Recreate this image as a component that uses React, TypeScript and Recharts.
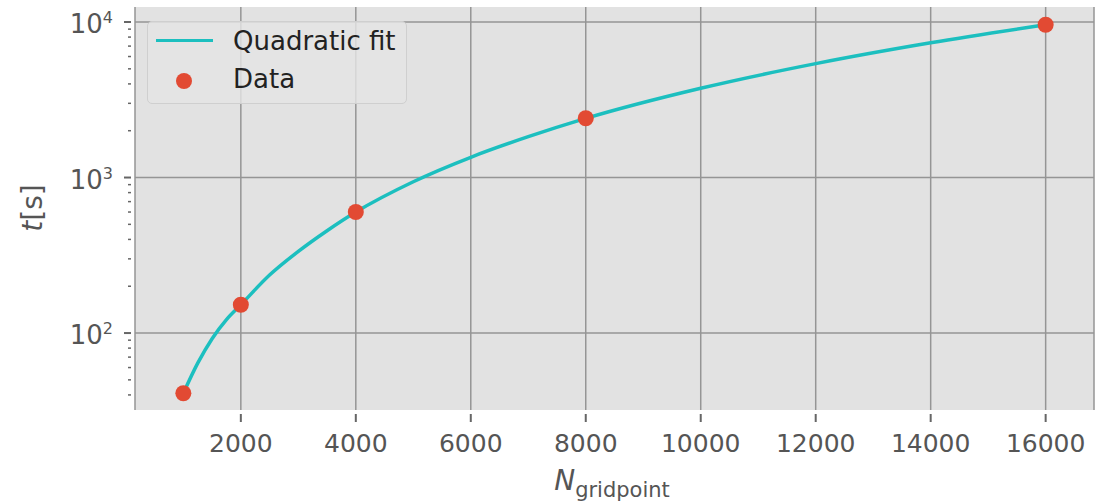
import React from 'react'
import {
  ComposedChart,
  Line,
  Scatter,
  XAxis,
  YAxis,
  CartesianGrid,
  ReferenceLine,
  Legend,
} from 'recharts'

// measured points
const DATA_N = [1000, 2000, 4000, 8000, 16000]
const DATA_T = [41, 152, 600, 2405, 9600]

// fitted curve
const FIT_N = [1000, 1250, 1500, 1750, 2000, 2500, 3000, 3500, 4000, 5000, 6000, 7000, 8000, 10000, 12000, 14000, 16000]
const FIT_T = [41, 64, 92, 122, 152, 236, 335, 455, 600, 940, 1350, 1830, 2400, 3750, 5400, 7350, 9600]

const X_TICKS = [2000, 4000, 6000, 8000, 10000, 12000, 14000, 16000]
const Y_MAJOR = [100, 1000, 10000]
const Y_MINOR = [40, 50, 60, 70, 80, 90, 200, 300, 400, 500, 600, 700, 800, 900, 2000, 3000, 4000, 5000, 6000, 7000, 8000, 9000]

const FONT = '"DejaVu Sans", sans-serif'
const FIT_COLOR = '#1cbfbf'
const DATA_COLOR = '#e24a33'
const TICK_COLOR = '#555'
const GRID_COLOR = '#959595'

const points = DATA_N.map((n, i) => ({ n, t: DATA_T[i] }))
const fit = FIT_N.map((n, i) => ({ n, t: FIT_T[i] }))

const XTick = ({ x, y, payload }: any) => (
  <g>
    <line x1={x} x2={x} y1={y + 4} y2={y + 12} stroke="#666" strokeWidth={2} />
    <text x={x} y={y + 42} textAnchor="middle" fontFamily={FONT} fontSize={25} fill={TICK_COLOR}>
      {payload.value}
    </text>
  </g>
)

const YTick = ({ x, y, payload }: any) => {
  const v = payload.value
  const exp = Math.round(Math.log10(v))
  const major = Math.abs(Math.log10(v) - exp) < 1e-9
  if (!major) {
    return <line x1={x - 7} x2={x - 4} y1={y} y2={y} stroke="#666" strokeWidth={1.5} />
  }
  return (
    <g>
      <line x1={x - 11} x2={x - 4} y1={y} y2={y} stroke="#666" strokeWidth={2} />
      <text x={x - 22} y={y + 11} textAnchor="end" fontFamily={FONT} fontSize={26} fill={TICK_COLOR}>
        10
        <tspan dy={-10} fontSize={16}>
          {exp}
        </tspan>
      </text>
    </g>
  )
}

const XLabel = () => (
  <text x={612} y={490} textAnchor="middle" fontFamily={FONT} fill={TICK_COLOR}>
    <tspan fontSize={28} fontStyle="italic">N</tspan>
    <tspan fontSize={21} dy={7}>gridpoint</tspan>
  </text>
)

const YLabel = () => (
  <text
    x={42}
    y={208}
    textAnchor="middle"
    transform="rotate(-90 42 208)"
    fontFamily={FONT}
    fontSize={28}
    fill={TICK_COLOR}
  >
    <tspan fontStyle="italic">t</tspan>
    <tspan>[s]</tspan>
  </text>
)

const renderLegend = () => (
  <div
    style={{
      width: 260,
      height: 83,
      boxSizing: 'border-box',
      border: '1px solid #cfcfcf',
      borderRadius: 5,
      background: 'rgba(229,229,229,0.8)',
      fontFamily: FONT,
      fontSize: 26,
      color: '#222',
      position: 'relative',
    }}
  >
    <div style={{ position: 'absolute', left: 8, top: 17, width: 57, height: 3, background: FIT_COLOR }} />
    <div style={{ position: 'absolute', left: 85, top: 3, lineHeight: '32px' }}>Quadratic fit</div>
    <div
      style={{ position: 'absolute', left: 28, top: 51, width: 16, height: 16, borderRadius: 8, background: DATA_COLOR }}
    />
    <div style={{ position: 'absolute', left: 85, top: 41, lineHeight: '32px' }}>Data</div>
  </div>
)

export default function App() {
  return (
    <div style={{ position: 'absolute', left: 0, top: 0, width: 1114, height: 502, background: '#fff' }}>
      <ComposedChart width={1114} height={502} margin={{ top: 7, right: 20, bottom: 32, left: 35 }}>
        <CartesianGrid fill="#e2e2e2" horizontal={false} stroke={GRID_COLOR} strokeWidth={1.5} />
        {Y_MAJOR.map((v) => (
          <ReferenceLine key={v} y={v} stroke={GRID_COLOR} strokeWidth={1.5} />
        ))}
        <XAxis
          dataKey="n"
          type="number"
          domain={[159, 16841]}
          ticks={X_TICKS}
          allowDataOverflow
          axisLine={false}
          tickLine={false}
          tickSize={0}
          tickMargin={0}
          height={60}
          tick={<XTick />}
          interval={0}
          label={XLabel}
        />
        <YAxis
          dataKey="t"
          type="number"
          scale="log"
          domain={[32, 12490]}
          ticks={[...Y_MINOR, ...Y_MAJOR].sort((a, b) => a - b)}
          allowDataOverflow
          axisLine={false}
          tickLine={false}
          tickSize={0}
          tickMargin={0}
          width={100}
          tick={<YTick />}
          interval={0}
          label={YLabel}
        />
        <Legend
          layout="horizontal"
          verticalAlign="middle"
          content={renderLegend}
          wrapperStyle={{ position: 'absolute', left: 147, top: 21, width: 260, height: 83 }}
        />
        <Line
          data={fit}
          dataKey="t"
          type="monotone"
          stroke={FIT_COLOR}
          strokeWidth={3.5}
          dot={false}
          activeDot={false}
          isAnimationActive={false}
        />
        <Scatter
          data={points}
          dataKey="t"
          fill={DATA_COLOR}
          isAnimationActive={false}
          shape={(p: any) => <circle cx={p.cx} cy={p.cy} r={8} fill={DATA_COLOR} />}
        />
      </ComposedChart>
    </div>
  )
}
